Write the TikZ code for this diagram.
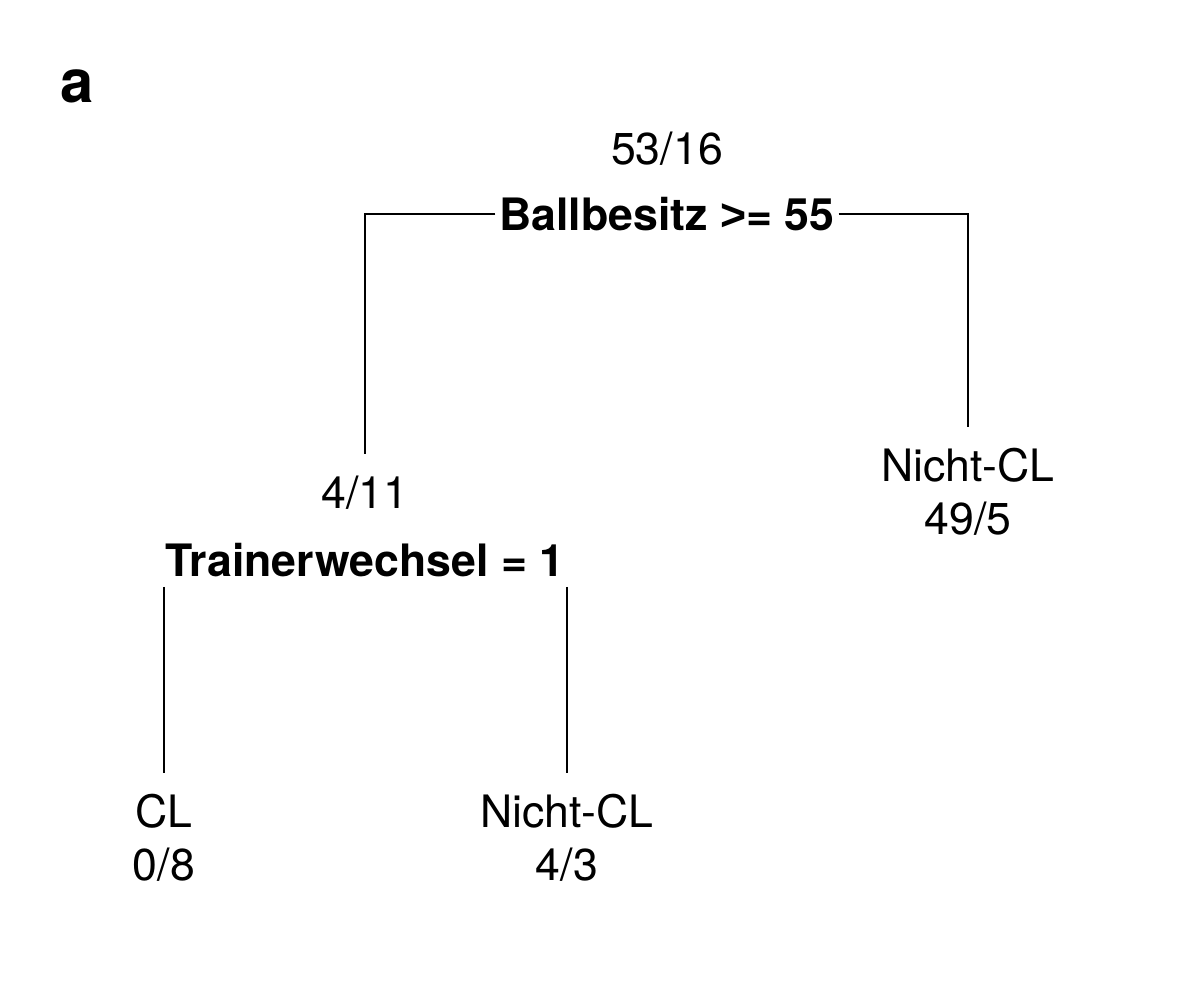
\documentclass[tikz,border=0pt]{standalone}
\usepackage{fontspec}
\setmainfont{TeX Gyre Heros}
\newfontfamily\gtfont{Liberation Sans}
\usepackage{tikz}
\usetikzlibrary{positioning,calc}

\tikzset{
  split/.style={font=\fontsize{12.7}{15}\selectfont\bfseries, inner xsep=1pt},
  count/.style={inner ysep=0pt},
  leaf/.style={align=center, inner ysep=0pt},
  edge/.style={line width=0.6pt, shorten >=6pt}
}

\begin{document}
\begin{tikzpicture}[font=\fontsize{12.7}{15}\selectfont]
\useasboundingbox (0,0) rectangle (12,-10);
% panel letter
\node[font=\fontsize{17}{20}\selectfont\bfseries] (panel) at (0.77,-0.86) {a};
% root split
\node[count] (cnt1) at (6.67,-1.49) {53/16};
\node[split] (split1) at (6.67,-2.14) {Ballbesitz {\gtfont\bfseries >}= 55};
\coordinate (c1l) at (3.65,-2.14);
\coordinate (c1r) at (9.68,-2.14);
% left subtree
\node[count] (cnt2) at (3.65,-4.93) {4/11};
\node[split] (split2) at (3.65,-5.60) {Trainerwechsel = 1};
\coordinate (c2l) at (1.64,-5.87);
\coordinate (c2r) at (5.67,-5.87);
% leaves
\node[leaf] (leaf1) at (9.68,-4.92) {Nicht-CL\\49/5};
\node[leaf] (leaf2) at (1.64,-8.38) {CL\\0/8};
\node[leaf] (leaf3) at (5.67,-8.38) {Nicht-CL\\4/3};
% branches
\draw[edge] (split1.west) -- (c1l) -- (cnt2.north);
\draw[edge] (split1.east) -- (c1r) -- (leaf1.north);
\draw[edge] (c2l) -- (leaf2.north);
\draw[edge] (c2r) -- (leaf3.north);
\end{tikzpicture}
\end{document}
